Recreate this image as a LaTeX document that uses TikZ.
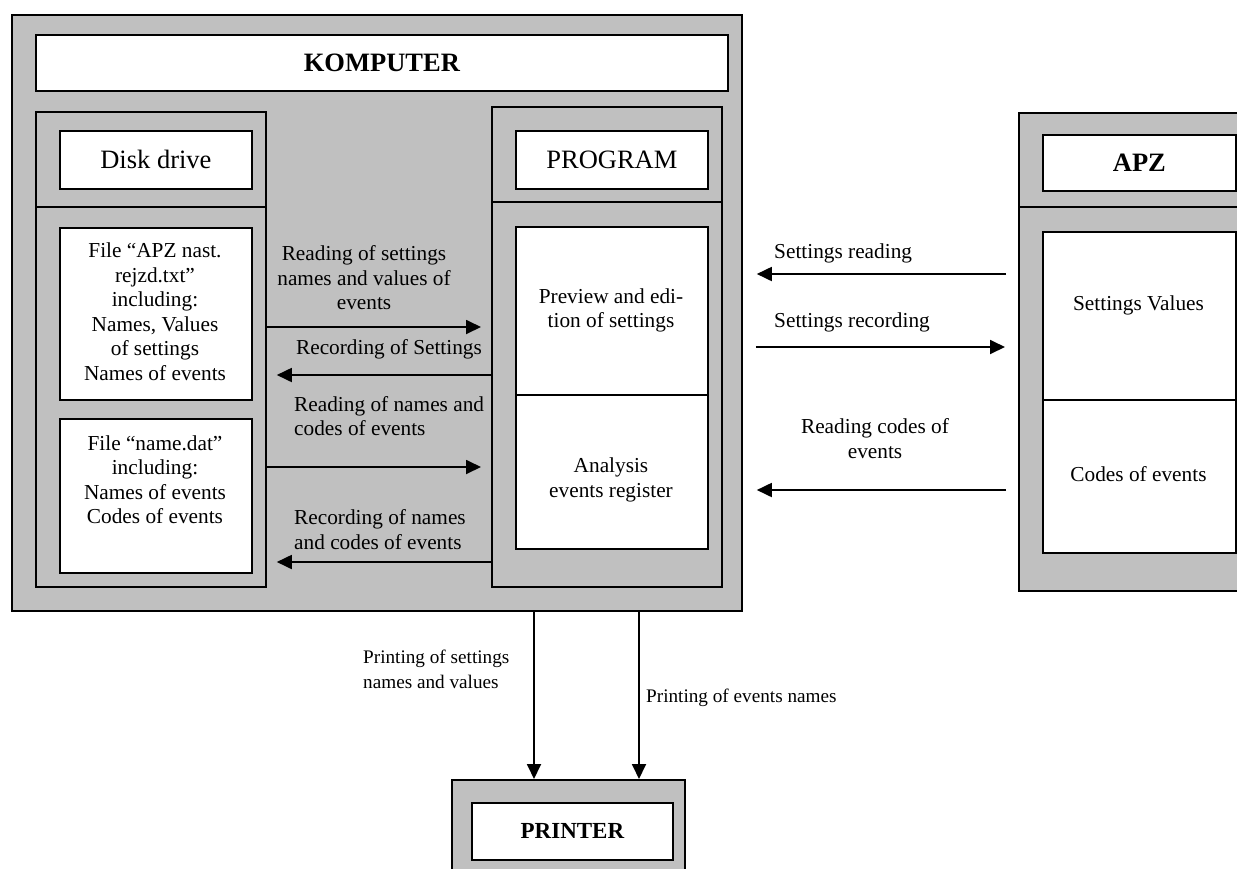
\documentclass[tikz,border=0pt]{standalone}
\usepackage{fontspec}
\setmainfont{Liberation Serif}
\usetikzlibrary{arrows.meta}
\definecolor{boxgray}{HTML}{C0C0C0}
\begin{document}
\begin{tikzpicture}[x=1pt,y=-1pt,
  graybox/.style={draw, line width=1.8pt, fill=boxgray, inner sep=0pt, anchor=north west},
  whitebox/.style={draw, line width=1.8pt, fill=white, inner sep=0pt, anchor=north west},
  divider/.style={line width=1.8pt},
  lbl/.style={inner sep=0pt, font=\fontsize{21.3}{24.5}\selectfont},
  plbl/.style={inner sep=0pt, font=\fontsize{19.2}{24.5}\selectfont},
  ttl/.style={font=\fontsize{26.5}{30}\selectfont},
  bttl/.style={font=\fontsize{26.5}{30}\selectfont\bfseries},
  arr/.style={line width=1.8pt, -{Triangle[length=15pt,width=14pt]}},
]
\useasboundingbox (0,0) rectangle (1237,868);
\fill[white] (0,0) rectangle (1237,868);

% KOMPUTER
\node[graybox, minimum width=730pt, minimum height=596pt] (komp) at (11,14) {};
\node[whitebox, minimum width=692pt, minimum height=56pt, bttl] (kt) at (35,34) {KOMPUTER};

% Disk drive
\node[graybox, minimum width=230pt, minimum height=475pt] (disk) at (35,111) {};
\coordinate (ddiv) at (0,207);
\draw[divider] (disk.west |- ddiv) -- (disk.east |- ddiv);
\node[whitebox, minimum width=192pt, minimum height=58pt, ttl] (dt) at (59,130) {Disk drive};
\node[whitebox, minimum width=192pt, minimum height=172pt] (fapz) at (59,227) {};
\node[lbl, align=center] (fapztxt) at (155,311.5) {File “APZ nast.\\rejzd.txt”\\including:\\Names, Values\\of settings\\Names of events};
\node[whitebox, minimum width=192pt, minimum height=154pt] (fnd) at (59,418) {};
\node[lbl, align=center] (fndtxt) at (155,479.5) {File “name.dat”\\including:\\Names of events\\Codes of events};

% PROGRAM
\node[graybox, minimum width=230pt, minimum height=480pt] (prog) at (491,106) {};
\coordinate (pdiv) at (0,202);
\draw[divider] (prog.west |- pdiv) -- (prog.east |- pdiv);
\node[whitebox, minimum width=192pt, minimum height=58pt, ttl] (pt) at (515,130) {PROGRAM};
\node[whitebox, minimum width=192pt, minimum height=168pt] (prev) at (515,226) {};
\node[whitebox, minimum width=192pt, minimum height=154pt] (anal) at (515,394) {};
\node[lbl, align=center] (prevtxt) at (611,310.5) {Preview and edi-\\tion of settings};
\node[lbl, align=center] (analtxt) at (611,480) {Analysis\\events register};

% APZ
\node[graybox, minimum width=240pt, minimum height=478pt] (apz) at (1018,112) {};
\coordinate (adiv) at (0,207);
\draw[divider] (apz.west |- adiv) -- (apz.east |- adiv);
\node[whitebox, minimum width=193pt, minimum height=56pt, bttl] (at) at (1042,134) {APZ};
\node[whitebox, minimum width=193pt, minimum height=168pt] (setv) at (1042,231) {};
\node[whitebox, minimum width=193pt, minimum height=153pt] (codes) at (1042,399) {};
\node[lbl] (setvtxt) at (1138.5,305) {Settings Values};
\node[lbl] (codestxt) at (1138.5,474) {Codes of events};

% PRINTER
\node[graybox, minimum width=233pt, minimum height=130pt] (printer) at (451,779) {};
\node[whitebox, minimum width=201pt, minimum height=57pt, font=\fontsize{23}{27}\selectfont\bfseries] (prt) at (471,802) {PRINTER};

% arrows inside KOMPUTER
\coordinate (y1) at (0,327);
\coordinate (y2) at (0,375);
\coordinate (y3) at (0,467);
\coordinate (y4) at (0,562);
\draw[arr, shorten >=10pt] (disk.east |- y1) -- (prog.west |- y1);
\draw[arr, shorten >=10pt] (prog.west |- y2) -- (disk.east |- y2);
\draw[arr, shorten >=10pt] (disk.east |- y3) -- (prog.west |- y3);
\draw[arr, shorten >=10pt] (prog.west |- y4) -- (disk.east |- y4);
\node[lbl, align=center] (l1) at (364,278) {Reading of settings\\names and values of\\events};
\node[lbl] (l2) at (389,349) {Recording of Settings};
\node[lbl, align=left, anchor=west] (l3) at (294,416) {Reading of names and\\codes of events};
\node[lbl, align=left, anchor=west] (l4) at (294,529.5) {Recording of names\\and codes of events};

% arrows between KOMPUTER and APZ
\coordinate (y5) at (0,274);
\coordinate (y6) at (0,347);
\coordinate (y7) at (0,490);
\draw[arr, shorten <=12pt, shorten >=14pt] (apz.west |- y5) -- (komp.east |- y5);
\draw[arr, shorten <=13pt, shorten >=13pt] (komp.east |- y6) -- (apz.west |- y6);
\draw[arr, shorten <=12pt, shorten >=14pt] (apz.west |- y7) -- (komp.east |- y7);
\node[lbl, anchor=west] (l5) at (774,253) {Settings reading};
\node[lbl, anchor=west] (l6) at (774,322) {Settings recording};
\node[lbl, align=center] (l7) at (875,438.5) {Reading codes of\\events};

% arrows to PRINTER
\coordinate (x1) at (534,0);
\coordinate (x2) at (639,0);
\draw[arr] (komp.south -| x1) -- (printer.north -| x1);
\draw[arr] (komp.south -| x2) -- (printer.north -| x2);
\node[plbl, align=left, anchor=west] (l8) at (363,669.5) {Printing of settings\\names and values};
\node[plbl, anchor=west] (l9) at (646,698) {Printing of events names};
\end{tikzpicture}
\end{document}
